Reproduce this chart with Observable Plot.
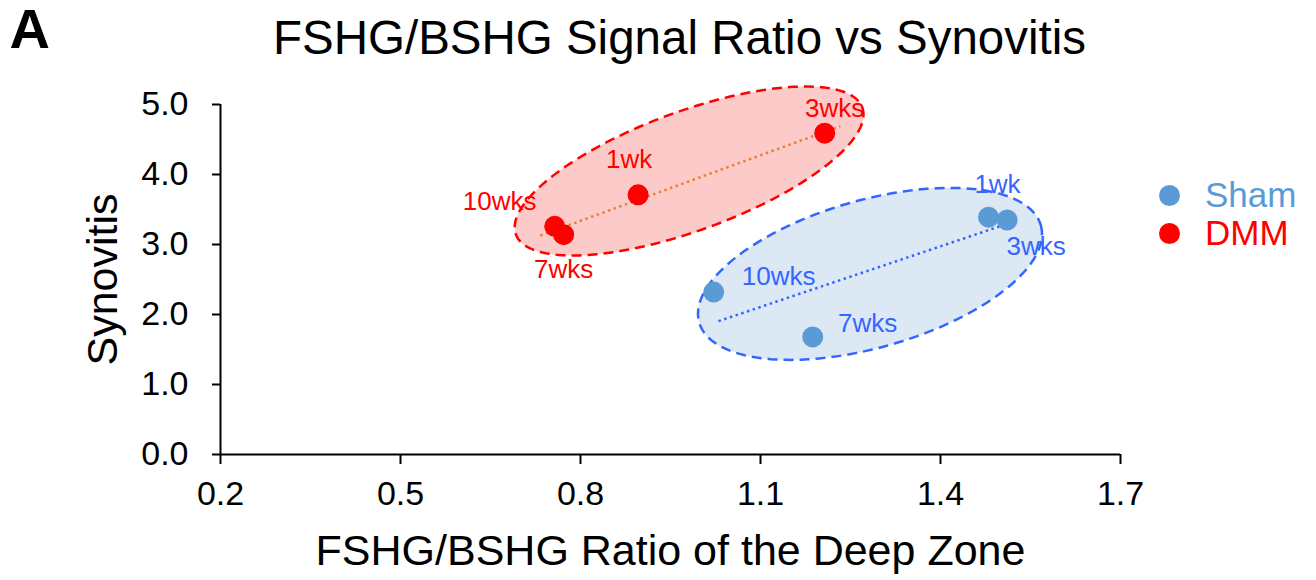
<!DOCTYPE html>
<html>
<head>
<meta charset="utf-8">
<script src="https://cdn.jsdelivr.net/npm/d3@7"></script>
<script src="https://cdn.jsdelivr.net/npm/@observablehq/plot@0.6"></script>
<style>
  html, body { margin: 0; padding: 0; background: #fff; }
  #wrap { position: relative; width: 1316px; height: 580px; font-family: "Liberation Sans", Arial, sans-serif; }
  #legend { position: absolute; left: 1159px; top: 176px; }
  .li { display: flex; align-items: center; height: 38px; font-size: 35px; }
  .sw { width: 21px; height: 21px; border-radius: 50%; margin-right: 25px; }
</style>
</head>
<body>
<div id="wrap"><div id="chart"></div>
  <div id="legend"></div>
</div>
<script>
// ---- data ----
const groups = ["Sham", "DMM"];
const timepoints = ["1wk", "3wks", "7wks", "10wks"];
const shamRatio = [1.480, 1.511, 1.187, 1.022];
const shamSynovitis = [3.39, 3.35, 1.68, 2.32];
const dmmRatio = [0.896, 1.207, 0.772, 0.757];
const dmmSynovitis = [3.71, 4.59, 3.14, 3.26];
// trendline x extents
const shamTrendRange = [1.03, 1.53];
const dmmTrendRange = [0.733, 1.233];
// group ellipses: centre and conjugate half-axis vectors (data units)
const shamEllipse = {cx: 1.2825, cy: 2.58, ux: 0.2847, uy: 0.695, vx: 0.0337, vy: -1.013};
const dmmEllipse = {cx: 0.981, cy: 4.05, ux: 0.2887, uy: 0.906, vx: 0.0341, vy: -0.798};
const xTicks = [0.2, 0.5, 0.8, 1.1, 1.4, 1.7];
const yTicks = [0, 1, 2, 3, 4, 5];

// ---- styles ----
const dotColor = {Sham: "#5b9bd5", DMM: "#ff0000"};
const labelColor = {Sham: "#3366ff", DMM: "#ff0000"};
const ellFill = {Sham: "#dde8f5", DMM: "#fdcaca"};
const ellStroke = {Sham: "#3366ff", DMM: "#ff0000"};
const trendColor = {Sham: "#3366ff", DMM: "#ed7d31"};
// label offsets (px) per group, per timepoint
const labelOffsets = {
  Sham: [[9, -33], [29, 27], [55, -13], [65, -15]],
  DMM: [[-9, -35], [10, -25], [0, 35], [-55, -25]]
};

const series = {
  Sham: {x: shamRatio, y: shamSynovitis, trend: shamTrendRange, ell: shamEllipse},
  DMM: {x: dmmRatio, y: dmmSynovitis, trend: dmmTrendRange, ell: dmmEllipse}
};

const points = groups.flatMap(g => timepoints.map((t, i) => ({
  group: g, time: t, x: series[g].x[i], y: series[g].y[i],
  dx: labelOffsets[g][i][0], dy: labelOffsets[g][i][1]
})));

function regression(xs, ys) {
  const mx = d3.mean(xs), my = d3.mean(ys);
  const sxy = d3.sum(xs, (x, i) => (x - mx) * (ys[i] - my));
  const sxx = d3.sum(xs, x => (x - mx) ** 2);
  const b = sxy / sxx;
  return x => my + b * (x - mx);
}
const trends = groups.flatMap(g => {
  const f = regression(series[g].x, series[g].y);
  return series[g].trend.map(x => ({group: g, x, y: f(x)}));
});
const ellipses = groups.flatMap(g => {
  const e = series[g].ell;
  return d3.range(0, 2 * Math.PI, Math.PI / 90).map(t => ({
    group: g,
    x: e.cx + e.ux * Math.cos(t) + e.vx * Math.sin(t),
    y: e.cy + e.uy * Math.cos(t) + e.vy * Math.sin(t)
  }));
});

const marks = [];
for (const g of groups) {
  marks.push(Plot.line(ellipses.filter(d => d.group === g), {
    x: "x", y: "y", curve: "linear-closed", fill: ellFill[g], stroke: ellStroke[g],
    strokeWidth: 2.5, strokeDasharray: "10,6", strokeLinecap: "butt"
  }));
}
for (const g of groups) {
  marks.push(Plot.line(trends.filter(d => d.group === g), {
    x: "x", y: "y", stroke: trendColor[g], strokeWidth: 2.5, strokeDasharray: "2.5,3.5", strokeLinecap: "butt"
  }));
}
marks.push(
  Plot.ruleY([0], {stroke: "black", strokeWidth: 2}),
  Plot.ruleX([0.2], {stroke: "black", strokeWidth: 2}),
  Plot.axisX({ticks: xTicks, tickFormat: d => d.toFixed(1), tickSize: 10, tickPadding: 16,
    fontSize: 34, stroke: "black", strokeWidth: 2, label: null, fill: "black"}),
  Plot.axisY({ticks: yTicks, tickFormat: d => d.toFixed(1), tickSize: 8, tickPadding: 24,
    fontSize: 34, stroke: "black", strokeWidth: 2, label: null, fill: "black"})
);
for (const g of groups) {
  marks.push(Plot.dot(points.filter(d => d.group === g), {x: "x", y: "y", r: 10.5, fill: dotColor[g], stroke: "none"}));
}
for (const g of groups) {
  for (const p of points.filter(d => d.group === g)) {
    marks.push(Plot.text([p], {x: "x", y: "y", text: "time", dx: p.dx, dy: p.dy, fill: labelColor[g], fontSize: 26}));
  }
}
marks.push(
  Plot.text(["FSHG/BSHG Ratio of the Deep Zone"], {frameAnchor: "bottom", textAnchor: "middle", lineAnchor: "middle", dy: 97, fontSize: 43, fill: "black"}),
  Plot.text(["Synovitis"], {frameAnchor: "left", textAnchor: "middle", lineAnchor: "middle", rotate: -90, dx: -117, fontSize: 43, fill: "black"}),
  Plot.text(["FSHG/BSHG Signal Ratio vs Synovitis"], {frameAnchor: "top", textAnchor: "middle", lineAnchor: "middle", dx: 9, dy: -66, fontSize: 47.5, fill: "black"}),
  Plot.text(["A"], {frameAnchor: "top-left", textAnchor: "start", lineAnchor: "middle", dx: -211, dy: -74, fontSize: 56, fontWeight: "bold", fill: "black"})
);

const chart = Plot.plot({
  width: 1316, height: 580,
  marginTop: 104, marginBottom: 126, marginLeft: 220, marginRight: 196,
  x: {domain: [0.2, 1.7]},
  y: {domain: [0, 5]},
  style: {fontFamily: "Liberation Sans, Arial, sans-serif", background: "white", overflow: "visible"},
  marks
});
document.getElementById("chart").appendChild(chart);

const legend = document.getElementById("legend");
for (const g of groups) {
  const row = document.createElement("div");
  row.className = "li";
  row.innerHTML = `<span class="sw" style="background:${dotColor[g]}"></span><span style="color:${g === "Sham" ? dotColor[g] : "#ff0000"}">${g}</span>`;
  legend.appendChild(row);
}
</script>
</body>
</html>
